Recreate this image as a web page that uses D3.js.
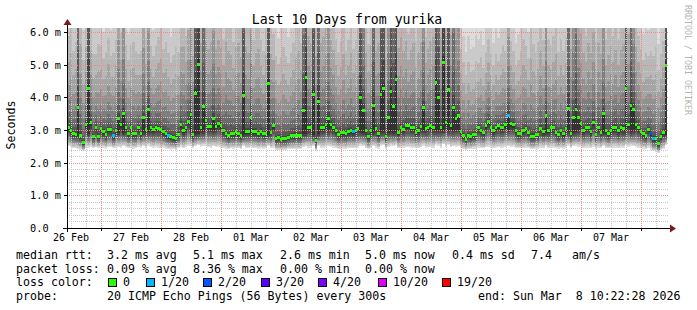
<!DOCTYPE html>
<html>
<head>
<meta charset="utf-8">
<script src="https://cdn.jsdelivr.net/npm/d3@7"></script>
<style>
  body { margin: 0; background: #fff; }
  svg { display: block; }
  text { font-family: 'DejaVu Sans Mono', monospace; fill: #000; }
</style>
</head>
<body>
<div id="chart"></div>
<script>
/* global d3 */

// 10 days of hourly steps, last one ends at the "end:" time
const startTime = Date.UTC(2026, 1, 26, 10, 22, 28)
const endTime = Date.UTC(2026, 2, 8, 10, 22, 28)
const stepMs = 3600 * 1000

// median rtt per step (ms)
const median = [
  3.09, 3.00, 2.91, 2.88, 3.70, 2.85, 2.63, 3.18, 4.29, 3.24, 2.82, 3.09, 2.82, 3.06, 2.97, 2.88, 3.03, 3.03, 2.85, 3.00,
  3.37, 3.18, 3.52, 3.09, 2.91, 3.09, 2.91, 2.91, 3.09, 2.91, 3.40, 3.03, 3.64, 3.09, 3.03, 3.09, 3.06, 3.03, 2.97, 2.90,
  2.85, 2.82, 2.78, 2.75, 2.88, 3.18, 3.00, 3.09, 3.28, 3.49, 2.88, 4.13, 5.02, 3.09, 3.73, 3.31, 3.12, 3.12, 3.37, 3.12,
  3.21, 3.15, 3.00, 2.91, 2.85, 2.91, 2.91, 2.97, 2.90, 2.85, 4.07, 2.97, 2.97, 3.40, 2.97, 2.97, 2.91, 2.97, 2.91, 2.91,
  4.44, 2.95, 3.15, 2.75, 2.78, 2.72, 2.75, 2.75, 2.80, 2.85, 2.85, 2.85, 2.85, 2.85, 3.61, 4.62, 3.10, 3.09, 4.10, 2.69,
  3.89, 3.09, 3.09, 3.18, 3.37, 3.18, 3.09, 3.00, 2.88, 2.94, 2.94, 2.91, 2.97, 3.00, 2.97, 3.00, 3.06, 4.00, 3.61, 3.00,
  2.82, 3.00, 3.76, 3.06, 2.90, 4.10, 4.29, 2.82, 3.40, 4.20, 3.73, 4.56, 2.94, 3.09, 3.03, 3.15, 3.15, 3.09, 3.09, 2.94,
  3.00, 3.12, 3.70, 3.06, 3.10, 3.15, 3.09, 4.47, 4.00, 3.09, 5.08, 3.24, 4.26, 3.15, 3.70, 3.37, 3.46, 2.97, 2.85, 2.72,
  2.85, 2.82, 2.88, 2.88, 3.09, 3.00, 2.95, 3.15, 3.28, 3.10, 3.00, 3.09, 3.15, 3.09, 3.09, 3.18, 3.46, 3.20, 3.18, 3.00,
  2.91, 2.91, 3.00, 3.06, 2.95, 2.82, 2.82, 2.88, 2.88, 3.06, 2.97, 3.46, 3.00, 3.09, 3.09, 2.95, 2.88, 3.00, 2.90, 3.06,
  3.67, 2.91, 3.40, 3.64, 3.40, 3.21, 3.00, 3.09, 3.09, 2.97, 3.24, 2.88, 3.09, 2.95, 3.52, 3.00, 2.91, 3.00, 3.09, 3.09,
  3.00, 3.09, 3.05, 4.29, 3.18, 3.76, 3.64, 3.18, 3.09, 2.97, 2.90, 2.85, 3.03, 2.91, 2.75, 2.75, 2.60, 2.82, 2.94, 4.99
]

// lost pings (of 20) per step
const loss = [
  0, 0, 0, 0, 0, 0, 0, 0, 0, 0, 0, 0, 0, 0, 0, 0, 0, 0, 1, 0,
  0, 0, 0, 0, 0, 0, 0, 0, 0, 0, 0, 0, 0, 0, 0, 0, 0, 0, 0, 0,
  1, 0, 0, 0, 0, 0, 0, 0, 0, 0, 0, 0, 0, 0, 0, 0, 0, 0, 0, 0,
  0, 0, 0, 0, 0, 0, 0, 0, 0, 0, 0, 0, 0, 0, 0, 0, 0, 0, 0, 0,
  0, 0, 0, 0, 0, 0, 0, 0, 0, 0, 0, 0, 0, 0, 0, 0, 0, 0, 0, 0,
  0, 0, 0, 0, 0, 0, 0, 0, 0, 0, 0, 0, 0, 0, 1, 0, 0, 0, 0, 0,
  0, 0, 0, 0, 0, 0, 0, 0, 0, 0, 0, 0, 0, 0, 0, 0, 0, 0, 0, 0,
  0, 0, 0, 0, 0, 0, 0, 0, 0, 0, 0, 0, 0, 0, 0, 0, 0, 0, 0, 0,
  0, 0, 0, 0, 0, 0, 0, 0, 0, 0, 0, 0, 0, 0, 0, 0, 1, 0, 0, 0,
  0, 0, 0, 0, 0, 0, 0, 0, 0, 0, 0, 0, 0, 0, 0, 0, 0, 0, 0, 0,
  0, 0, 0, 0, 0, 0, 0, 0, 0, 0, 0, 0, 0, 0, 0, 0, 0, 0, 0, 0,
  0, 0, 0, 0, 0, 0, 0, 0, 0, 0, 0, 0, 0, 2, 1, 0, 0, 0, 0, 0
]

// fastest ping per step (ms), bottom edge of the smoke
const lowPing = [
  2.50, 2.47, 2.44, 2.46, 2.42, 2.40, 2.36, 2.44, 2.46, 2.48, 2.45, 2.47, 2.44, 2.49, 2.46, 2.43, 2.47, 2.48, 2.44, 2.46,
  2.48, 2.45, 2.50, 2.47, 2.44, 2.46, 2.43, 2.45, 2.48, 2.46, 2.50, 2.46, 2.52, 2.47, 2.45, 2.48, 2.46, 2.44, 2.46, 2.43,
  2.42, 2.40, 2.41, 2.40, 2.44, 2.47, 2.45, 2.48, 2.50, 2.52, 2.44, 2.50, 2.55, 2.48, 2.52, 2.50, 2.47, 2.46, 2.50, 2.47,
  2.48, 2.46, 2.44, 2.43, 2.42, 2.44, 2.43, 2.45, 2.44, 2.42, 2.50, 2.45, 2.44, 2.48, 2.45, 2.44, 2.43, 2.45, 2.43, 2.44,
  2.52, 2.44, 2.46, 2.40, 2.40, 2.38, 2.40, 2.39, 2.41, 2.42, 2.42, 2.43, 2.42, 2.43, 2.48, 2.52, 2.46, 2.45, 2.50, 2.35,
  2.50, 2.46, 2.45, 2.47, 2.50, 2.47, 2.45, 2.44, 2.42, 2.43, 2.43, 2.42, 2.44, 2.45, 2.44, 2.45, 2.46, 2.52, 2.50, 2.45,
  2.42, 2.45, 2.50, 2.46, 2.43, 2.52, 2.54, 2.42, 2.48, 2.52, 2.50, 2.55, 2.44, 2.46, 2.45, 2.47, 2.47, 2.46, 2.46, 2.44,
  2.45, 2.47, 2.52, 2.46, 2.47, 2.48, 2.46, 2.55, 2.52, 2.46, 2.56, 2.48, 2.54, 2.47, 2.50, 2.48, 2.50, 2.45, 2.42, 2.40,
  2.42, 2.41, 2.43, 2.43, 2.46, 2.45, 2.44, 2.47, 2.49, 2.46, 2.45, 2.46, 2.47, 2.46, 2.46, 2.48, 2.50, 2.48, 2.47, 2.45,
  2.44, 2.44, 2.45, 2.46, 2.44, 2.42, 2.42, 2.43, 2.43, 2.46, 2.44, 2.50, 2.45, 2.46, 2.46, 2.44, 2.43, 2.45, 2.43, 2.46,
  2.52, 2.44, 2.50, 2.52, 2.49, 2.48, 2.45, 2.46, 2.46, 2.44, 2.48, 2.43, 2.46, 2.44, 2.50, 2.45, 2.44, 2.45, 2.46, 2.46,
  2.45, 2.46, 2.45, 2.54, 2.47, 2.52, 2.50, 2.47, 2.46, 2.44, 2.43, 2.42, 2.45, 2.40, 2.35, 2.34, 2.30, 2.38, 2.42, 2.55
]

// how far the slow pings reach above the median (ms)
const spread = [
  5, 6, 4.5, 5, 40, 7, 4.5, 6, 60, 5.5, 4.5, 4, 5, 4.5, 4, 4.5, 5, 4, 4.5, 5,
  9, 5, 10, 4.5, 4, 4.5, 5, 4.5, 4, 4.5, 8, 5, 9, 4.5, 4, 4.5, 5, 5.5, 4.5, 5,
  4.5, 4, 4.5, 5, 4.5, 6, 6.5, 5, 7, 10, 6, 45, 70, 6.5, 30, 9, 6, 6.5, 10, 6,
  6.5, 6, 5, 7, 6.5, 6, 5, 6.5, 7, 6, 45, 6.5, 6, 10, 5, 6, 6.5, 5, 4.5, 6,
  60, 6, 5, 4.5, 4, 4.5, 5, 4.5, 4, 4.5, 5, 6, 6.5, 5, 25, 60, 7, 6.5, 45, 6.5,
  35, 6.5, 7, 8, 12, 6.5, 6, 5, 4.5, 5, 6, 4.5, 5, 6, 4.5, 5, 6, 45, 15, 6,
  5, 6.5, 30, 6, 7, 45, 55, 6, 12, 45, 30, 55, 6.5, 7, 6, 6.5, 5, 6, 6.5, 5,
  6, 6.5, 12, 5, 6, 6.5, 7, 50, 35, 7, 70, 10, 45, 7, 25, 9, 10, 4.5, 4, 3.5,
  4, 3.5, 3.5, 4, 3.5, 4, 3.5, 4, 4.5, 4, 3.5, 4, 3.5, 4, 4.5, 4, 9, 4.5, 4, 3.5,
  4, 4.5, 5, 4.5, 4, 6, 5, 4.5, 5, 6, 5, 10, 5, 4.5, 5, 6, 4.5, 5, 4.5, 5,
  30, 6.5, 12, 25, 9, 7, 6, 5, 6.5, 6, 7, 5, 6.5, 6, 10, 5, 6, 6.5, 5, 6,
  5, 6, 6.5, 45, 7, 30, 12, 6, 5, 4.5, 4, 4.5, 4, 4.5, 4.5, 5, 4, 4.5, 5, 50
]

// steps where the median jumped: the dark core starts down at the usual level
const spikeCore = [
  [4, 2.9], [8, 2.95], [20, 3.0], [22, 3.0], [30, 3.0], [32, 3.0], [49, 3.0], [51, 2.95], [52, 2.95],
  [54, 3.0], [58, 3.05], [70, 2.9], [73, 2.95], [80, 2.9], [94, 2.95], [95, 2.95], [98, 2.9], [100, 2.95],
  [104, 3.05], [117, 3.0], [118, 3.0], [122, 3.0], [125, 3.0], [126, 3.0], [128, 3.0], [129, 3.0], [130, 3.0],
  [131, 3.0], [142, 3.05], [147, 3.05], [148, 3.05], [150, 3.05], [152, 3.05], [154, 3.05], [155, 3.1],
  [156, 3.1], [176, 3.1], [191, 3.0], [200, 3.0], [202, 3.0], [203, 3.0], [204, 3.05], [214, 3.0], [223, 3.0],
  [225, 3.0], [226, 3.05], [239, 2.9]
]

const yTicks = [0, 1, 2, 3, 4, 5, 6]
const yTickLabels = ['0.0', '1.0 m', '2.0 m', '3.0 m', '4.0 m', '5.0 m', '6.0 m']

const lossSteps = [0, 1, 2, 3, 4, 10, 19]
const lossLabels = ['0', '1/20', '2/20', '3/20', '4/20', '10/20', '19/20']
const lossColors = ['#26ff00', '#00b8ff', '#0059ff', '#5e00ff', '#7e00ff', '#dd00ff', '#ff0000']

const statLines = [
  ['median rtt:', '3.2 ms avg', '5.1 ms max', '2.6 ms min', '5.0 ms now', '0.4 ms sd', '7.4', 'am/s'],
  ['packet loss:', '0.09 % avg', '8.36 % max', '0.00 % min', '0.00 % now']
]
const probeText = '20 ICMP Echo Pings (56 Bytes) every 300s'
const endText = 'end: Sun Mar  8 10:22:28 2026'

function renderSmokeChart(selector) {
  const width = 697
  const height = 310
  const plot = {left: 67, right: 667, top: 28, bottom: 228}

  const svg = d3.select(selector).append('svg')
    .attr('width', width)
    .attr('height', height)

  const x = d3.scaleUtc()
    .domain([startTime, endTime])
    .range([plot.left, plot.right])
  const y = d3.scaleLinear()
    .domain([0, 6])
    .range([plot.bottom, 32])

  const coreAt = new Map(spikeCore)
  const cols = median.map((m, i) => ({
    t: startTime + i * stepMs,
    m,
    low: lowPing[i],
    spread: spread[i],
    core: coreAt.has(i) ? coreAt.get(i) : m,
    loss: loss[i]
  }))

  svg.append('clipPath').attr('id', 'plotclip')
    .append('rect')
    .attr('x', plot.left).attr('y', plot.top)
    .attr('width', plot.right - plot.left).attr('height', plot.bottom - plot.top)

  // smoke: 10 nested bands per step, outer pings light, inner pings dark
  const bands = []
  d3.range(1, 11).forEach(k => {
    const f = (11 - k) / 10
    const grey = Math.floor(190 / 10 * (10 - k)) + 50
    cols.forEach(d => {
      bands.push({
        t: d.t,
        lo: d.core - (d.core - d.low) * Math.pow(f, 0.8),
        hi: d.m + d.spread * Math.pow(f, 2.6),
        fill: d3.rgb(grey, grey, grey)
      })
    })
  })
  svg.append('g')
    .attr('clip-path', 'url(#plotclip)')
    .attr('shape-rendering', 'crispEdges')
    .selectAll('rect').data(bands).enter().append('rect')
    .attr('x', d => Math.round(x(d.t)))
    .attr('width', d => Math.round(x(d.t + stepMs)) - Math.round(x(d.t)))
    .attr('y', d => Math.round(y(d.hi)))
    .attr('height', d => Math.max(0, Math.round(y(d.lo)) - Math.round(y(d.hi))))
    .attr('fill', d => d.fill)

  // grid
  const grid = svg.append('g').attr('shape-rendering', 'crispEdges')
  const minorY = y.ticks(30).filter(v => Math.abs(v - Math.round(v)) > 1e-6)
  grid.selectAll('.hminor').data(minorY).enter().append('line')
    .attr('x1', plot.left).attr('x2', plot.right + 2)
    .attr('y1', d => Math.round(y(d)) + 0.5).attr('y2', d => Math.round(y(d)) + 0.5)
    .attr('stroke', '#c8c8c8').attr('stroke-dasharray', '1,1')
  const days = d3.utcDay.range(startTime, endTime)
  const quarters = d3.utcHour.every(6).range(startTime, endTime).filter(d => d.getUTCHours() !== 0)
  grid.selectAll('.vminor').data(quarters).enter().append('line')
    .attr('x1', d => Math.round(x(d)) + 0.5).attr('x2', d => Math.round(x(d)) + 0.5)
    .attr('y1', plot.bottom).attr('y2', plot.top)
    .attr('stroke', '#c8c8c8').attr('stroke-dasharray', '1,1')
  grid.selectAll('.hmajor').data(yTicks.slice(1)).enter().append('line')
    .attr('x1', plot.left).attr('x2', plot.right + 2)
    .attr('y1', d => Math.round(y(d)) + 0.5).attr('y2', d => Math.round(y(d)) + 0.5)
    .attr('stroke', '#f08a8a').attr('stroke-dasharray', '1,1')
  grid.selectAll('.vmajor').data(days).enter().append('line')
    .attr('x1', d => Math.round(x(d)) + 0.5).attr('x2', d => Math.round(x(d)) + 0.5)
    .attr('y1', plot.bottom).attr('y2', plot.top)
    .attr('stroke', '#f08a8a').attr('stroke-dasharray', '1,1')

  // median boxes coloured by loss
  const lossColor = n => {
    let c = lossColors[0]
    lossSteps.forEach((s, j) => { if (n >= s) c = lossColors[j] })
    return c
  }
  svg.append('g')
    .attr('clip-path', 'url(#plotclip)')
    .attr('shape-rendering', 'crispEdges')
    .selectAll('rect').data(cols).enter().append('rect')
    .attr('x', d => Math.round(x(d.t)))
    .attr('width', d => Math.round(x(d.t + stepMs)) - Math.round(x(d.t)))
    .attr('y', d => Math.round(y(d.m)) - 1)
    .attr('height', 3)
    .attr('fill', d => lossColor(d.loss))

  // axes
  const axes = svg.append('g').attr('shape-rendering', 'crispEdges')
  axes.append('line')
    .attr('x1', plot.left - 4).attr('x2', plot.right + 4)
    .attr('y1', plot.bottom + 0.5).attr('y2', plot.bottom + 0.5)
    .attr('stroke', '#000')
  axes.append('line')
    .attr('x1', plot.left + 0.5).attr('x2', plot.left + 0.5)
    .attr('y1', plot.bottom + 4).attr('y2', plot.top - 4)
    .attr('stroke', '#000')
  axes.selectAll('.ytick').data(yTicks).enter().append('line')
    .attr('x1', plot.left - 3).attr('x2', plot.left)
    .attr('y1', d => Math.round(y(d)) + 0.5).attr('y2', d => Math.round(y(d)) + 0.5)
    .attr('stroke', '#000')
  axes.selectAll('.xtick').data(days).enter().append('line')
    .attr('x1', d => Math.round(x(d)) + 0.5).attr('x2', d => Math.round(x(d)) + 0.5)
    .attr('y1', plot.bottom).attr('y2', plot.bottom + 3)
    .attr('stroke', '#000')
  svg.append('path')
    .attr('d', `M${plot.right + 3},${plot.bottom - 3.5}L${plot.right + 9},${plot.bottom + 0.5}L${plot.right + 3},${plot.bottom + 4.5}Z`)
    .attr('fill', '#7a1a1a')
  svg.append('path')
    .attr('d', `M${plot.left - 3.5},${plot.top - 3}L${plot.left + 0.5},${plot.top - 9}L${plot.left + 4.5},${plot.top - 3}Z`)
    .attr('fill', '#7a1a1a')

  // tick labels
  svg.selectAll('.ylab').data(yTicks).enter().append('text')
    .attr('x', 30)
    .attr('y', d => y(d) + 4)
    .attr('font-size', '10.3px')
    .text((d, i) => yTickLabels[i])
  const noons = days.map(d => new Date(+d - 12 * stepMs))
    .concat([new Date(+days[days.length - 1] + 12 * stepMs)])
    .filter(d => +d >= startTime && +d <= endTime)
  svg.selectAll('.xlab').data(noons).enter().append('text')
    .attr('x', d => x(d))
    .attr('y', 241)
    .attr('text-anchor', 'middle')
    .attr('font-size', '10px')
    .text(d3.utcFormat('%d %b'))

  // titles
  svg.append('text')
    .attr('x', 347).attr('y', 24)
    .attr('text-anchor', 'middle')
    .attr('font-size', '13.2px')
    .text('Last 10 Days from yurika')
  svg.append('text')
    .attr('transform', 'translate(15,125) rotate(-90)')
    .attr('text-anchor', 'middle')
    .attr('font-size', '11.6px')
    .text('Seconds')
  svg.append('text')
    .attr('transform', 'translate(685,5) rotate(90)')
    .attr('font-size', '8.3px')
    .style('fill', '#b4b4b4')
    .text('RRDTOOL / TOBI OETIKER')

  // legend
  const legend = svg.append('g').attr('font-size', '11.6px')
  const statX = [16, 107, 193, 280, 365, 452, 531, 572]
  statLines.forEach((line, r) => {
    line.forEach((s, j) => {
      legend.append('text')
        .attr('x', statX[j]).attr('y', 259 + r * 13.5)
        .style('white-space', 'pre')
        .text(s)
    })
  })
  legend.append('text').attr('x', 16).attr('y', 286).text('loss color:')
  const boxX = [108, 146, 203, 261, 318, 378, 442]
  lossLabels.forEach((lab, j) => {
    legend.append('rect')
      .attr('x', boxX[j] + 0.5).attr('y', 278.5)
      .attr('width', 8).attr('height', 8)
      .attr('fill', lossColors[j])
      .attr('stroke', '#000')
    legend.append('text')
      .attr('x', boxX[j] + 15).attr('y', 286)
      .text(lab)
  })
  legend.append('text').attr('x', 16).attr('y', 300).text('probe:')
  legend.append('text').attr('x', 107).attr('y', 300).text(probeText)
  legend.append('text').attr('x', 478).attr('y', 300)
    .style('white-space', 'pre')
    .text(endText)
}

renderSmokeChart('#chart')
</script>
</body>
</html>
